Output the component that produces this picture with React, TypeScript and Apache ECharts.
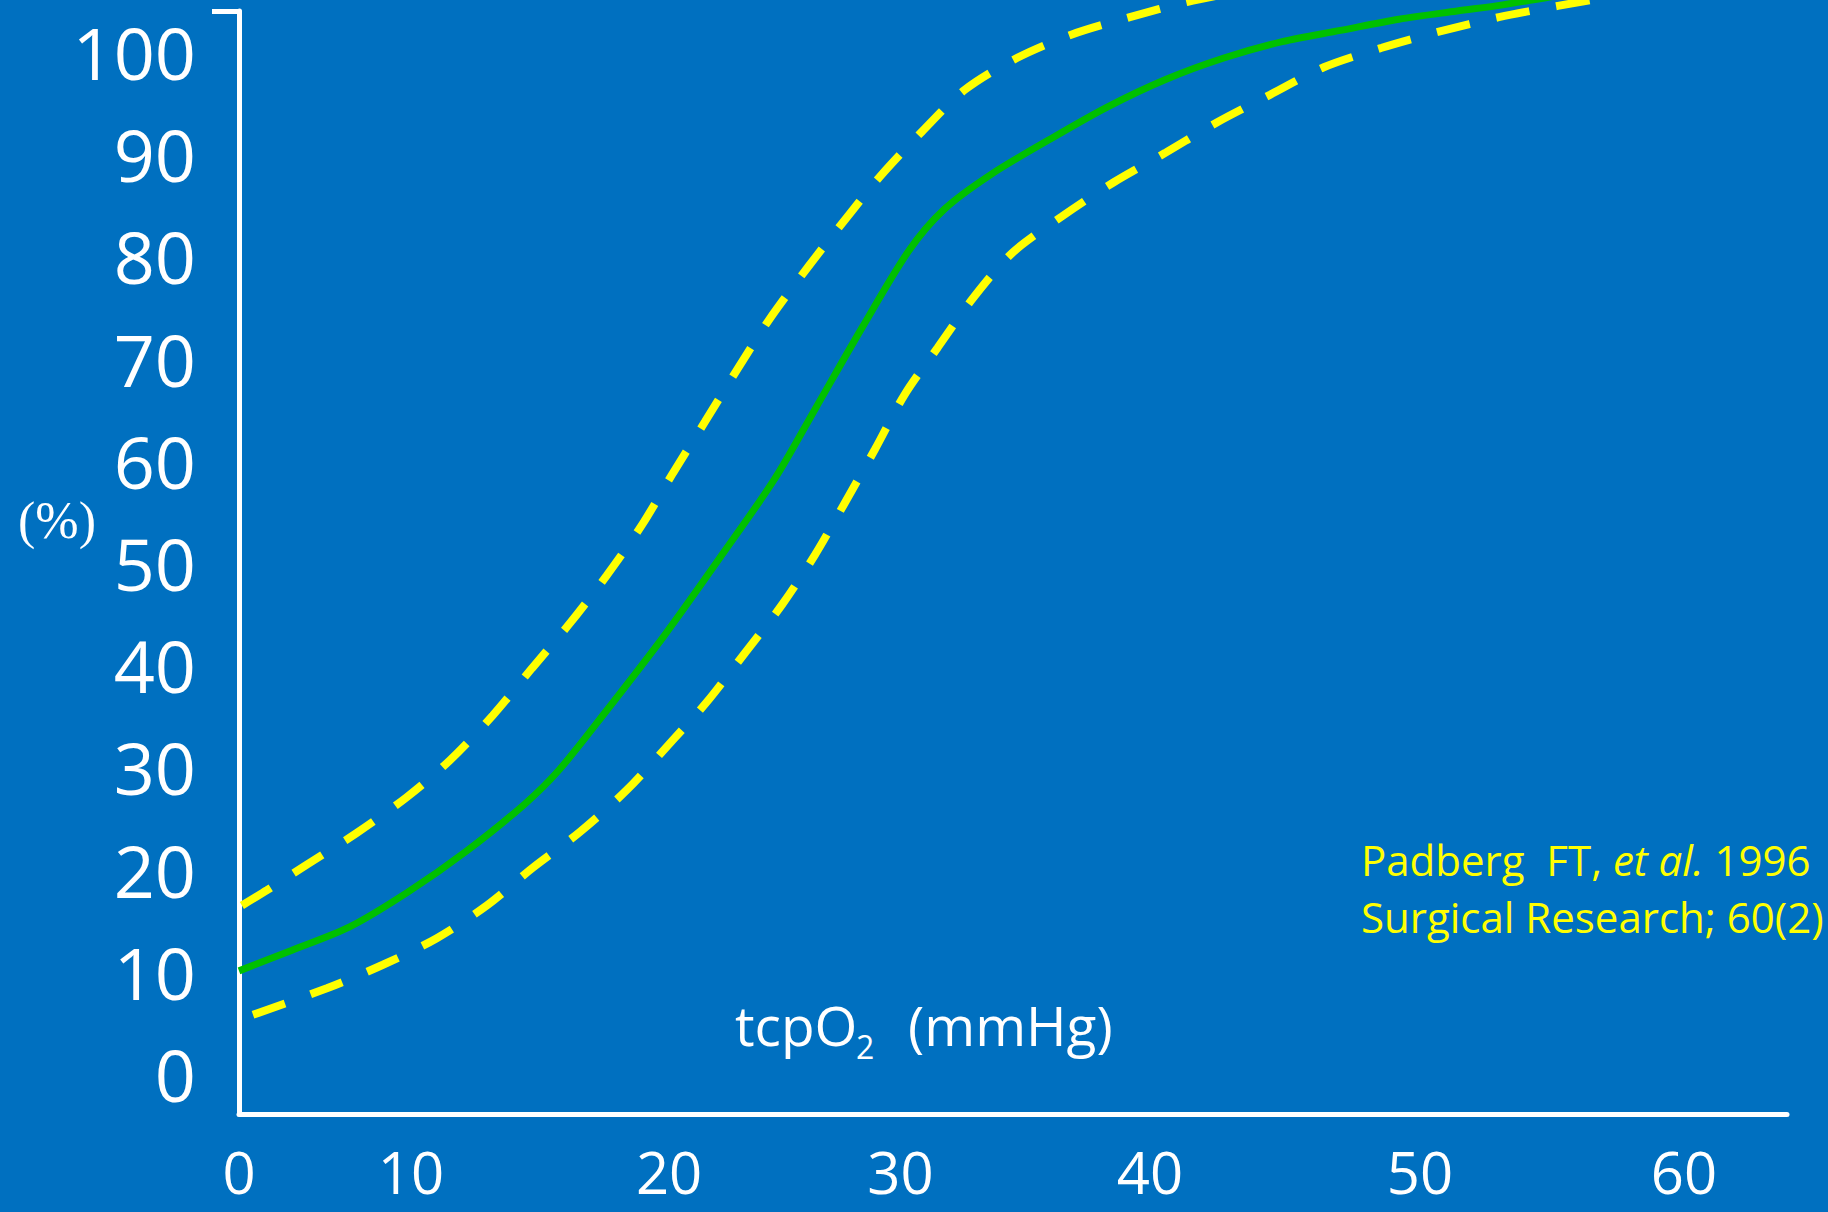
import React, { useEffect, useRef } from 'react';
import * as echarts from 'echarts';

// Axis tick labels (x labels sit where the original slide printed them)
const xTickLabels = ['0', '10', '20', '30', '40', '50', '60'];
const xTickAt = [0.17, 7.29, 17.98, 27.56, 37.89, 49.07, 60.0];
const yTickValues = [0, 10, 20, 30, 40, 50, 60, 70, 80, 90, 100];

// Median curve (solid green): [tcpO2, %]
const median: [number, number][] = [
  [0.17, 10.1], [2.34, 12.1], [4.75, 14.4], [7.16, 17.8], [9.58, 21.8],
  [11.99, 26.4], [13.44, 29.8], [15.37, 35.5], [17.78, 42.9], [20.2, 50.9],
  [22.37, 58.3], [24.06, 65.2], [25.99, 73.1], [27.92, 80.6], [29.37, 84.6],
  [31.3, 88.0], [33.71, 91.4], [36.12, 94.6], [38.54, 97.3], [40.95, 99.4],
  [43.37, 101.0], [45.78, 102.1], [48.2, 103.2], [50.61, 104.0], [52.5, 104.6],
  [55.0, 105.6],
];

// Upper bound (dashed yellow)
const upperBound: [number, number][] = [
  [0.29, 16.5], [1.33, 18.0], [2.98, 20.5], [5.05, 23.6], [7.12, 27.1],
  [8.9, 30.7], [10.68, 35.1], [12.3, 39.7], [13.87, 44.1], [15.4, 48.8],
  [16.85, 53.7], [18.14, 58.8], [19.46, 63.8], [20.79, 68.9], [22.15, 73.9],
  [23.81, 79.2], [25.47, 84.2], [26.71, 87.8], [28.45, 92.2], [30.23, 96.3],
  [32.38, 99.4], [34.66, 101.7], [37.06, 103.4], [39.46, 104.9], [42.0, 106.1],
];

// Lower bound (dashed yellow)
const lowerBound: [number, number][] = [
  [0.75, 5.8], [3.81, 8.4], [6.13, 10.7], [8.36, 13.3], [10.43, 16.5],
  [12.34, 20.2], [14.29, 23.7], [16.23, 27.8], [18.14, 32.7], [19.54, 36.4],
  [21.12, 41.2], [22.65, 45.9], [24.02, 50.8], [25.26, 55.9], [26.5, 61.1],
  [27.74, 66.5], [29.11, 71.1], [30.56, 75.9], [32.22, 80.4], [34.24, 83.9],
  [36.36, 87.2], [38.51, 90.1], [40.66, 93.1], [42.86, 95.8], [45.09, 98.5],
  [47.49, 100.4], [49.9, 102.0], [52.34, 103.4], [54.78, 104.5], [57.27, 105.5],
];

const BG = '#0070C0';
const WHITE = '#FFFFFF';
const YELLOW = '#FFFF00';
const GREEN = '#00C000';
const SANS = '"Open Sans", "Noto Sans", sans-serif';

export default function App() {
  const ref = useRef<HTMLDivElement>(null);

  useEffect(() => {
    document.body.style.margin = '0';
    document.body.style.background = BG;
    const chart = echarts.init(ref.current!, null, { renderer: 'svg' });
    const xLabel = (v: number) => {
      const i = xTickAt.findIndex((a) => Math.abs(a - v) < 1e-6);
      return i >= 0 ? xTickLabels[i] : '';
    };
    const dashed = (data: [number, number][]) => ({
      type: 'line',
      data,
      showSymbol: false,
      smooth: 0.3,
      clip: false,
      silent: true,
      lineStyle: { color: YELLOW, width: 8, type: [34, 27], cap: 'butt' },
      z: 4,
    });
    chart.setOption({
      animation: false,
      backgroundColor: BG,
      grid: { left: 239, right: 41, top: 11, bottom: 98, containLabel: false, outerBoundsMode: 'none' },
      xAxis: {
        type: 'value',
        min: 0.17,
        max: 64.27,
        axisLine: { show: true, onZero: false, lineStyle: { color: WHITE, width: 5 } },
        axisTick: { show: false },
        splitLine: { show: false },
        axisLabel: {
          customValues: xTickAt,
          formatter: xLabel,
          color: WHITE,
          fontFamily: SANS,
          fontSize: 58,
          lineHeight: 46,
          margin: 57,
          verticalAlign: 'middle',
          showMinLabel: true,
          showMaxLabel: true,
        },
      },
      yAxis: {
        type: 'value',
        min: -3.9,
        max: 104,
        axisLine: { show: true, onZero: false, lineStyle: { color: WHITE, width: 5 } },
        axisTick: { show: true, customValues: [104], length: 27, lineStyle: { color: WHITE, width: 5 } },
        splitLine: { show: false },
        axisLabel: {
          customValues: yTickValues,
          color: WHITE,
          fontFamily: SANS,
          fontSize: 72,
          margin: 43,
        },
      },
      series: [
        {
          type: 'line',
          data: median,
          showSymbol: false,
          smooth: 0.3,
          clip: false,
          silent: true,
          lineStyle: { color: GREEN, width: 7 },
          z: 3,
        },
        dashed(upperBound),
        dashed(lowerBound),
      ],
      graphic: [
        {
          type: 'text', x: 18, y: 520,
          style: { text: '(%)', fill: WHITE, fontSize: 52, fontFamily: '"Liberation Serif", serif', verticalAlign: 'middle' },
        },
        {
          type: 'text', x: 735, y: 1024,
          style: { text: 'tcpO', fill: WHITE, fontSize: 55, fontFamily: SANS, verticalAlign: 'middle' },
        },
        {
          type: 'text', x: 856, y: 1046,
          style: { text: '2', fill: WHITE, fontSize: 32, fontFamily: SANS, verticalAlign: 'middle' },
        },
        {
          type: 'text', x: 908, y: 1024,
          style: { text: '(mmHg)', fill: WHITE, fontSize: 55, fontFamily: SANS, verticalAlign: 'middle' },
        },
        {
          type: 'text', x: 1361, y: 859,
          style: {
            text: 'Padberg  FT, {i|et al.} 1996',
            fill: YELLOW, fontSize: 42, fontFamily: SANS, verticalAlign: 'middle',
            rich: { i: { fontStyle: 'italic', fill: YELLOW, fontSize: 42, fontFamily: SANS } },
          },
        },
        {
          type: 'text', x: 1361, y: 916,
          style: { text: 'Surgical Research; 60(2)', fill: YELLOW, fontSize: 42, fontFamily: SANS, verticalAlign: 'middle' },
        },
      ],
    });
    return () => chart.dispose();
  }, []);

  return <div ref={ref} style={{ position: 'fixed', left: 0, top: 0, width: 1828, height: 1212 }} />;
}
